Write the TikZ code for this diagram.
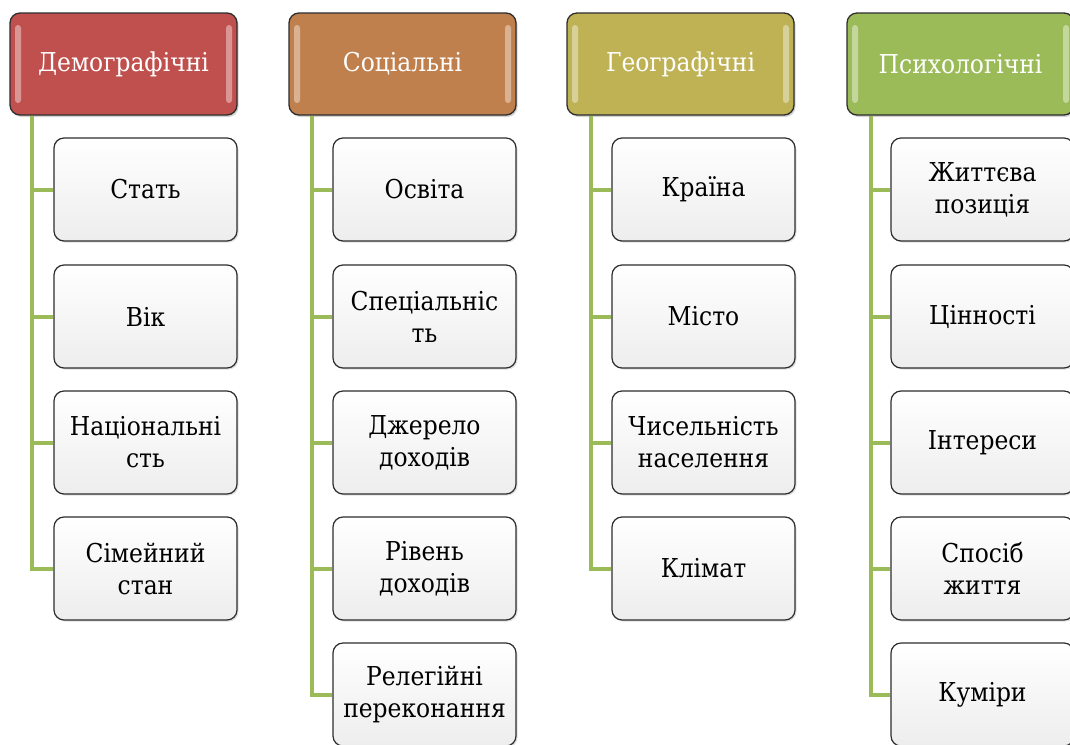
\documentclass[tikz,border=0pt]{standalone}
\usepackage{fontspec}
\setmainfont{DejaVu Serif Condensed}
\usetikzlibrary{shadows}
\definecolor{cRed}{RGB}{192,80,77}
\definecolor{cBrown}{RGB}{192,128,77}
\definecolor{cOlive}{RGB}{190,178,85}
\definecolor{cGreen}{RGB}{155,187,89}
\definecolor{cLine}{RGB}{155,187,89}
\definecolor{cBorder}{RGB}{45,45,45}
\tikzset{
  headbox/.style={draw=cBorder, line width=1.3pt, rounded corners=10pt,
    minimum width=227pt, minimum height=102pt, text=white,
    font=\fontsize{26}{32}\selectfont,
    drop shadow={opacity=0.35, shadow xshift=1.5pt, shadow yshift=-2pt},
    path picture={
      \fill[white, opacity=0.4, rounded corners=3pt]
        ([xshift=5pt,yshift=-12pt]path picture bounding box.north west)
        rectangle ([xshift=11pt,yshift=12pt]path picture bounding box.south west);
      \fill[white, opacity=0.4, rounded corners=3pt]
        ([xshift=-11pt,yshift=-12pt]path picture bounding box.north east)
        rectangle ([xshift=-5pt,yshift=12pt]path picture bounding box.south east);
    }},
  itembox/.style={draw=cBorder, line width=1.2pt, rounded corners=10pt,
    minimum width=183pt, minimum height=103pt, align=center,
    top color=white, bottom color=black!7,
    font=\fontsize{26}{32}\selectfont,
    drop shadow={opacity=0.25, shadow xshift=1.5pt, shadow yshift=-1.5pt}},
  conn/.style={draw=cLine, line width=4pt}
}
\begin{document}
\begin{tikzpicture}[x=1pt,y=-1pt]
\useasboundingbox (0,0) rectangle (1070,744);
% headers
\node[headbox, fill=cRed]   (h1) at (123.5,64) {Демографічні};
\node[headbox, fill=cBrown] (h2) at (402.5,64) {Соціальні};
\node[headbox, fill=cOlive] (h3) at (680.5,64) {Географічні};
\node[headbox, fill=cGreen] (h4) at (960.5,64) {Психологічні};
% column 1
\node[itembox] (a1) at (145.5,189.5) {Стать};
\node[itembox] (a2) at (145.5,316.5) {Вік};
\node[itembox] (a3) at (145.5,442.5) {Національні\\сть};
\node[itembox] (a4) at (145.5,568.5) {Сімейний\\стан};
% column 2
\node[itembox] (b1) at (424.5,189.5) {Освіта};
\node[itembox] (b2) at (424.5,316.5) {Спеціальніс\\ть};
\node[itembox] (b3) at (424.5,442.5) {Джерело\\доходів};
\node[itembox] (b4) at (424.5,568.5) {Рівень\\доходів};
\node[itembox] (b5) at (424.5,694.5) {Релегійні\\переконання};
% column 3
\node[itembox] (c1) at (703.5,189.5) {Країна};
\node[itembox] (c2) at (703.5,316.5) {Місто};
\node[itembox] (c3) at (703.5,442.5) {Чисельність\\населення};
\node[itembox] (c4) at (703.5,568.5) {Клімат};
% column 4
\node[itembox] (d1) at (982.5,189.5) {Життєва\\позиція};
\node[itembox] (d2) at (982.5,316.5) {Цінності};
\node[itembox] (d3) at (982.5,442.5) {Інтереси};
\node[itembox] (d4) at (982.5,568.5) {Спосіб\\життя};
\node[itembox] (d5) at (982.5,694.5) {Куміри};
% connectors
\foreach \c in {a1,a2,a3,a4}
  \draw[conn] ([xshift=23pt]h1.south west) |- (\c.west);
\foreach \c in {b1,b2,b3,b4,b5}
  \draw[conn] ([xshift=24pt]h2.south west) |- (\c.west);
\foreach \c in {c1,c2,c3,c4}
  \draw[conn] ([xshift=25pt]h3.south west) |- (\c.west);
\foreach \c in {d1,d2,d3,d4,d5}
  \draw[conn] ([xshift=25pt]h4.south west) |- (\c.west);
\end{tikzpicture}
\end{document}
